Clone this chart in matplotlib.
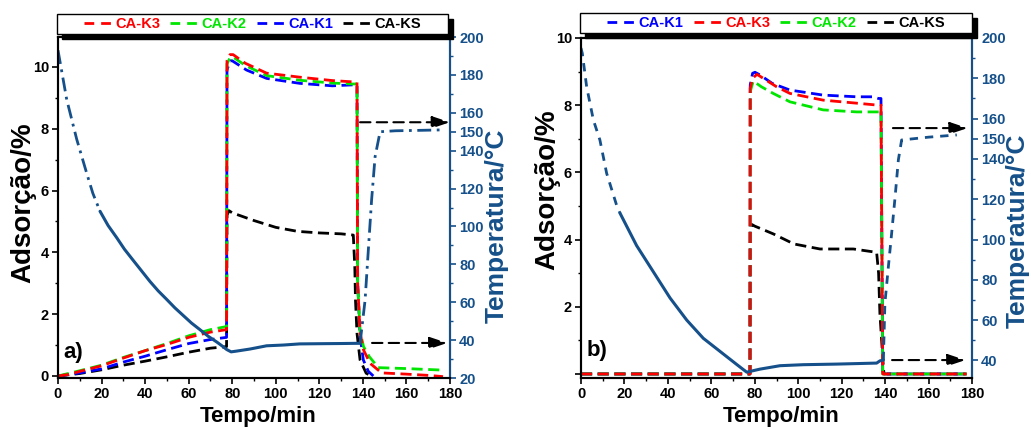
import matplotlib
matplotlib.use("Agg")
import matplotlib.pyplot as plt
from matplotlib.lines import Line2D
from matplotlib.patches import Rectangle
from matplotlib.ticker import MultipleLocator, FixedLocator

plt.rcParams['font.family'] = ['Liberation Sans', 'DejaVu Sans']
plt.rcParams['font.weight'] = 'bold'

# ---------------- data: panel a ----------------
t_a_K3 = [0, 5, 10, 20, 30, 40, 50, 60, 70, 77.4, 77.6, 79, 80.4, 86, 95.8, 111, 126, 135, 137.3, 137.6, 138.7, 140.3, 143.3, 148.6, 160, 170, 176.8]
a_K3 = [0, 0.05, 0.15, 0.33, 0.58, 0.82, 1.02, 1.25, 1.42, 1.5, 10.2, 10.4, 10.4, 10.12, 9.8, 9.67, 9.56, 9.52, 9.5, 3.0, 1.4, 0.84, 0.41, 0.1, 0.06, 0.02, -0.02]

t_a_K2 = [0, 10, 20, 30, 40, 50, 60, 70, 77.4, 77.6, 79, 80.4, 86, 95.8, 111, 126, 135, 137.3, 137.6, 138.7, 140.3, 143, 145, 147, 160, 170, 176.8]
a_K2 = [0, 0.17, 0.35, 0.6, 0.82, 1.05, 1.3, 1.5, 1.6, 10.1, 10.3, 10.32, 10.05, 9.72, 9.57, 9.48, 9.45, 9.45, 3.0, 1.45, 0.95, 0.62, 0.45, 0.27, 0.24, 0.21, 0.19]

t_a_K1 = [0, 10, 20, 30, 40, 50, 60, 70, 77.4, 77.6, 79, 80, 86.6, 95.8, 111, 126, 135, 137.3, 137.6, 138.7, 140.2, 142.5, 144.8]
a_K1 = [0, 0.1, 0.23, 0.45, 0.64, 0.85, 1.05, 1.18, 1.25, 9.9, 10.2, 10.2, 9.9, 9.63, 9.47, 9.39, 9.42, 9.42, 3.0, 1.3, 0.52, 0.15, 0.0]

t_a_KS = [0, 10, 20, 30, 40, 50, 60, 70, 77.4, 77.6, 78.5, 80, 90, 100, 110, 120, 130, 135.6, 136.3, 136.6, 137.3, 138.7, 141.5, 144.8]
a_KS = [0, 0.08, 0.2, 0.35, 0.48, 0.62, 0.77, 0.9, 0.95, 5.2, 5.35, 5.28, 5.03, 4.81, 4.68, 4.63, 4.6, 4.56, 3.5, 2.46, 1.38, 0.52, 0.09, -0.03]

t_a_temp = [0, 4, 8.6, 13.2, 16, 19.3, 23, 27, 30.5, 34.6, 38.4, 42.2, 46, 49.9, 53.7, 57.5, 61.3, 65.2, 69, 72.9, 75.5, 77.5, 79.5, 82, 88.2, 95.8, 103.5, 111, 120, 130, 137.2, 138.7, 141, 142.5, 144, 145.6, 147.9, 155, 165, 177.7]
T_a = [193, 167, 146, 128, 117.5, 108, 100.5, 94, 88, 82, 76.5, 71, 66, 61.5, 57, 53, 49, 45.5, 42, 39, 36.8, 35, 33.8, 34.2, 35.3, 37, 37.4, 38, 38.1, 38.2, 38.3, 38.3, 61, 87.6, 114, 136.8, 150, 150.5, 150.7, 151]

# ---------------- data: panel b ----------------
t_b_K1 = [0, 77.8, 77.9, 79, 80.1, 82.4, 88, 96.2, 111.5, 126.9, 134.6, 136.9, 138.1, 138.5, 138.9, 177.5]
b_K1 = [0, 0, 8.6, 8.95, 8.98, 8.9, 8.65, 8.45, 8.3, 8.25, 8.25, 8.2, 8.2, 4.0, 0, 0]

t_b_K3 = [0, 77.8, 77.9, 79, 81, 83.9, 90, 96.2, 111.5, 126.9, 136.9, 138.1, 138.5, 138.9, 177.5]
b_K3 = [0, 0, 8.5, 8.8, 8.92, 8.8, 8.55, 8.35, 8.15, 8.06, 8.0, 8.0, 4.0, 0, 0]

t_b_K2 = [0, 77.8, 77.9, 79.3, 83, 88.5, 96.2, 111.5, 126.9, 137.5, 138.1, 138.5, 138.9, 177.5]
b_K2 = [0, 0, 8.4, 8.72, 8.55, 8.35, 8.1, 7.86, 7.8, 7.8, 7.8, 4.0, 0, 0]

t_b_KS = [0, 77.8, 77.9, 78.6, 80, 88.5, 98, 110, 125.4, 136.1, 137, 137.6, 138.4, 139.2, 139.5, 177.5]
b_KS = [0, 0, 4.3, 4.45, 4.4, 4.17, 3.87, 3.72, 3.72, 3.62, 3.0, 1.8, 1.0, 0.2, 0, 0]

t_b_temp = [0, 0.6, 2.6, 5.7, 8.7, 11.8, 16.4, 18, 25.6, 33.3, 41, 48.7, 56.3, 64, 71.7, 74.7, 76.3, 82.4, 91.6, 102.3, 117.7, 136.1, 137.6, 139.2, 139.9, 141.5, 143, 144.6, 146.1, 147.6, 160, 173]
T_b = [195, 192.4, 175.8, 159.3, 149.4, 132.9, 117, 113, 97, 84, 71, 60, 51, 44.5, 38, 35.5, 34.2, 35.7, 37.4, 37.9, 38.2, 38.7, 39.8, 40.2, 68.3, 86.5, 103, 121.2, 139.5, 149.4, 150.8, 151.9]

RED, GREEN, BLUE, BLACK = '#ff0000', '#00e600', '#0000ff', '#000000'
NAVY = '#15508a'

W, H = 1031, 428
fig = plt.figure(figsize=(W / 100, H / 100), dpi=100)

DASH = (0, (4, 2))
LW = 2.0


def style_axes(ax, ax2, left_lim, right_lim, right_ticks, left_ticks, left_labels):
    ax.set_xlim(0, 180)
    ax.set_ylim(*left_lim)
    ax2.set_ylim(*right_lim)
    ax.xaxis.set_major_locator(MultipleLocator(20))
    ax.xaxis.set_minor_locator(MultipleLocator(10))
    ax.yaxis.set_major_locator(FixedLocator(left_ticks))
    ax.set_yticklabels(left_labels)
    ax.yaxis.set_minor_locator(MultipleLocator(1))
    ax2.yaxis.set_major_locator(FixedLocator(right_ticks))
    ax2.yaxis.set_minor_locator(MultipleLocator(10))
    for a in (ax, ax2):
        for s in a.spines.values():
            s.set_linewidth(1.5)
        a.tick_params(which='major', direction='out', length=4.5, width=1.2, labelsize=10.5, pad=2)
        a.tick_params(which='minor', direction='out', length=2.5, width=1.0)
    ax2.spines['right'].set_color(NAVY)
    ax2.tick_params(axis='y', which='both', colors=NAVY, labelcolor=NAVY)
    for lab in ax.get_xticklabels() + ax.get_yticklabels() + ax2.get_yticklabels():
        lab.set_fontweight('bold')


def legend_box(ax, ax_w, ax_h, box_px, names, colors):
    # box_px: (left, right, bottom_above_top, top_above_top) in pixels relative to axes
    l, r, b, t = box_px
    x0, x1 = l / ax_w, 1 + r / ax_w
    y0, y1 = 1 + b / ax_h, 1 + t / ax_h
    sh = Rectangle((x0 + 5 / ax_w, y0 - 5 / ax_h), x1 - x0, y1 - y0, transform=ax.transAxes,
                   facecolor='black', edgecolor='black', clip_on=False, zorder=20)
    bx = Rectangle((x0, y0), x1 - x0, y1 - y0, transform=ax.transAxes,
                   facecolor='white', edgecolor='black', lw=1.0, clip_on=False, zorder=21)
    ax.add_patch(sh)
    ax.add_patch(bx)
    handles = [Line2D([], [], color=c, lw=2.0, linestyle=(0, (3.5, 2.5))) for c in colors]
    leg = ax.legend(handles, names, loc='center', bbox_to_anchor=((x0 + x1) / 2, (y0 + y1) / 2),
                    bbox_transform=ax.transAxes, ncol=4, frameon=False, fontsize=10.5,
                    handlelength=1.9, handletextpad=0.25, columnspacing=0.7,
                    borderpad=0, borderaxespad=0)
    for txt, c in zip(leg.get_texts(), colors):
        txt.set_color(c)
        txt.set_fontweight('bold')
    leg.set_zorder(22)


def arrow(ax, x0, x1, y):
    ax.annotate('', xy=(x1, y), xytext=(x0, y),
                arrowprops=dict(arrowstyle='-|>,head_length=0.9,head_width=0.3', color='black',
                                lw=1.5, linestyle=(0, (5, 3)), shrinkA=0, shrinkB=0,
                                mutation_scale=12))


def split(ts, vs, lo, hi):
    xs = [t for t in ts if lo <= t <= hi]
    ys = [v for t, v in zip(ts, vs) if lo <= t <= hi]
    return xs, ys


# ---------------- panel a ----------------
axA = fig.add_axes([58 / W, 1 - 378 / H, 392 / W, 341 / H])
axA2 = axA.twinx()
axA.plot(t_a_KS, a_KS, color=BLACK, lw=LW, linestyle=DASH)
axA.plot(t_a_K1, a_K1, color=BLUE, lw=LW, linestyle=DASH)
axA.plot(t_a_K2, a_K2, color=GREEN, lw=LW, linestyle=DASH)
axA.plot(t_a_K3, a_K3, color=RED, lw=LW, linestyle=DASH)

xs, ys = split(t_a_temp, T_a, 0, 19.3)
axA2.plot(xs, ys, color=NAVY, lw=2.0, linestyle=(0, (5, 2, 1, 2)))
xs, ys = split(t_a_temp, T_a, 19.3, 138.7)
axA2.plot(xs, ys, color=NAVY, lw=2.2, solid_capstyle='round', solid_joinstyle='round')
xs, ys = split(t_a_temp, T_a, 138.7, 180)
axA2.plot(xs, ys, color=NAVY, lw=2.0, linestyle=(0, (5, 2, 1, 2)))

style_axes(axA, axA2, (-0.065, 10.97), (20, 200),
           [20, 40, 60, 80, 100, 120, 140, 150, 160, 180, 200],
           [0, 2, 4, 6, 8, 10], ['0', '2', '4', '6', '8', '10'])
arrow(axA2, 138.7, 180, 155)
arrow(axA2, 144.2, 178.8, 38.5)
axA.text(0.013, 0.045, 'a)', transform=axA.transAxes, fontsize=16, fontweight='bold', va='bottom')
legend_box(axA2, 392, 341, (-1, -2, 3, 23), ['CA-K3', 'CA-K2', 'CA-K1', 'CA-KS'],
           [RED, GREEN, BLUE, BLACK])

# ---------------- panel b ----------------
axB = fig.add_axes([581 / W, 1 - 378 / H, 391 / W, 340 / H])
axB2 = axB.twinx()
axB.plot(t_b_KS, b_KS, color=BLACK, lw=LW, linestyle=DASH)
axB.plot(t_b_K1, b_K1, color=BLUE, lw=LW, linestyle=DASH)
axB.plot(t_b_K2, b_K2, color=GREEN, lw=LW, linestyle=DASH)
axB.plot(t_b_K3, b_K3, color=RED, lw=LW, linestyle=DASH)

xs, ys = split(t_b_temp, T_b, 0, 18)
axB2.plot(xs, ys, color=NAVY, lw=2.0, linestyle=(0, (3, 2.5)))
xs, ys = split(t_b_temp, T_b, 18, 139.2)
axB2.plot(xs, ys, color=NAVY, lw=2.2, solid_capstyle='round', solid_joinstyle='round')
xs, ys = split(t_b_temp, T_b, 139.2, 180)
axB2.plot(xs, ys, color=NAVY, lw=2.0, linestyle=(0, (3, 2.5)))

style_axes(axB, axB2, (-0.12, 10), (31.3, 200),
           [40, 60, 80, 100, 120, 140, 150, 160, 180, 200],
           [0, 2, 4, 6, 8, 10], ['', '2', '4', '6', '8', '10'])
arrow(axB2, 143.6, 178, 155.3)
arrow(axB2, 143.2, 177, 40.2)
axB.text(0.015, 0.05, 'b)', transform=axB.transAxes, fontsize=16, fontweight='bold', va='bottom')
legend_box(axB2, 391, 340, (-1, 0, 5, 25), ['CA-K1', 'CA-K3', 'CA-K2', 'CA-KS'],
           [BLUE, RED, GREEN, BLACK])

# ---------------- axis titles ----------------
fig.text(258 / W, (H - 422) / H, 'Tempo/min', fontsize=16, fontweight='bold', ha='center', va='baseline')
fig.text(781 / W, (H - 422) / H, 'Tempo/min', fontsize=16, fontweight='bold', ha='center', va='baseline')
fig.text(23 / W, 1 - 203 / H, 'Adsorção/%', fontsize=20, fontweight='bold', rotation=90, ha='center', va='center')
fig.text(547 / W, 1 - 190 / H, 'Adsorção/%', fontsize=20, fontweight='bold', rotation=90, ha='center', va='center')
fig.text(497 / W, 1 - 226 / H, 'Temperatura/°C', fontsize=19, fontweight='bold', rotation=90, ha='center', va='center', color=NAVY)
fig.text(1018 / W, 1 - 231 / H, 'Temperatura/°C', fontsize=19, fontweight='bold', rotation=90, ha='center', va='center', color=NAVY)

fig.savefig('out.png', dpi=100)
